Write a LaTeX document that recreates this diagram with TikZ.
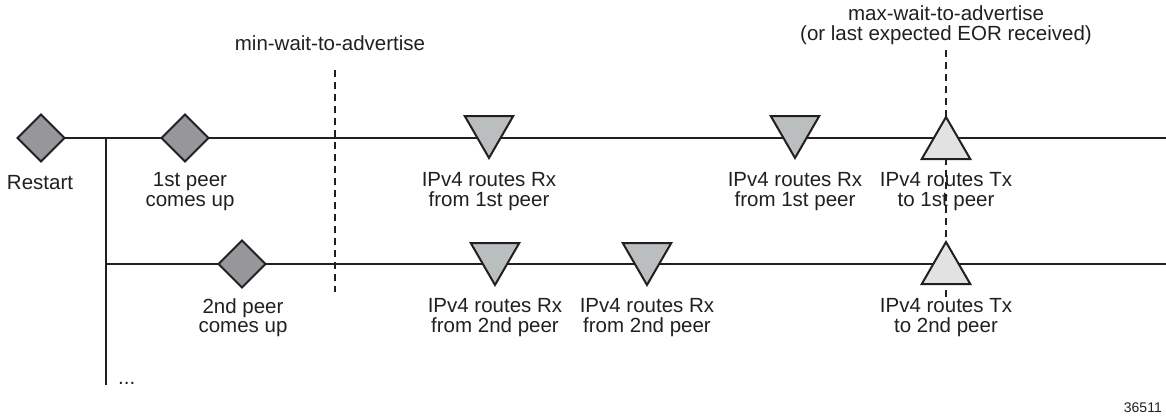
\documentclass[tikz,border=0pt]{standalone}
\usepackage{fontspec}
\setmainfont{Liberation Sans}
\usetikzlibrary{shapes.geometric}
\definecolor{ink}{RGB}{35,31,32}
\definecolor{dfill}{RGB}{150,150,155}
\definecolor{rxfill}{RGB}{186,190,190}
\definecolor{txfill}{RGB}{226,226,226}
\tikzset{
  every node/.style={font=\fontsize{20.5}{19.5}\selectfont},
  tline/.style={draw=ink,line width=1.4pt},
  dline/.style={draw=ink,line width=1.3pt,dash pattern=on 7pt off 5pt},
  evt/.style={diamond,draw=ink,fill=dfill,line width=2pt,minimum width=47pt,minimum height=47pt,inner sep=0pt,outer sep=0pt},
  rx/.style={regular polygon,regular polygon sides=3,shape border rotate=180,draw=ink,fill=rxfill,line width=2pt,minimum size=56pt,inner sep=0pt,outer sep=0pt},
  tx/.style={regular polygon,regular polygon sides=3,draw=ink,fill=txfill,line width=2pt,minimum size=56pt,inner sep=0pt,outer sep=0pt},
  lbl/.style={align=center,inner sep=0pt,text=ink}
}
\begin{document}
\begin{tikzpicture}[x=1pt,y=-1pt]
\useasboundingbox (0,0) rectangle (1166,415);
% coordinates
\coordinate (r1end) at (1166,138);
\coordinate (br1) at (106,138);
\coordinate (br2) at (106,264);
\coordinate (vend) at (106,385);
\coordinate (r2end) at (1166,264);
\coordinate (minT) at (335,70);
\coordinate (minB) at (335,292);
\coordinate (maxT) at (946,50);
\coordinate (maxB) at (946,300);
% event nodes
\node[evt] (restart) at (41,138) {};
% lines
\draw[tline] (restart.east) -- (r1end);
\draw[tline] (br1) -- (vend);
\draw[tline] (br2) -- (r2end);
\draw[dline] (minT) -- (minB);
\draw[dline] (maxT) -- (maxB);
% shapes
\node[evt] (peer1) at (185,138) {};
\node[evt] (peer2) at (242,264) {};
\node[rx] (rx11) at (489,130) {};
\node[rx] (rx12) at (795,130) {};
\node[tx] (tx1) at (946,145) {};
\node[rx] (rx21) at (495,257) {};
\node[rx] (rx22) at (647,257) {};
\node[tx] (tx2) at (946,270) {};
% labels
\node[lbl] (lrestart) at (40,183) {Restart};
\node[lbl] (lpeer1) at (190,191.5) {1st peer\\comes up};
\node[lbl] (lpeer2) at (243,317.5) {2nd peer\\comes up};
\node[lbl] (lrx11) at (489,191.5) {IPv4 routes Rx\\from 1st peer};
\node[lbl] (lrx12) at (795,191.5) {IPv4 routes Rx\\from 1st peer};
\node[lbl] (ltx1) at (946,191.5) {IPv4 routes Tx\\to 1st peer};
\node[lbl] (lrx21) at (495,317.5) {IPv4 routes Rx\\from 2nd peer};
\node[lbl] (lrx22) at (647,317.5) {IPv4 routes Rx\\from 2nd peer};
\node[lbl] (ltx2) at (946,317.5) {IPv4 routes Tx\\to 2nd peer};
\node[lbl] (lmin) at (330,43) {min-wait-to-advertise};
\node[lbl] (lmax) at (946,25) {max-wait-to-advertise\\(or last expected EOR received)};
\node[lbl,anchor=west] (dots) at (118,383) {...};
\node[lbl,anchor=east,font=\fontsize{14}{14}\selectfont] (fig) at (1162,408) {36511};
\end{tikzpicture}
\end{document}
